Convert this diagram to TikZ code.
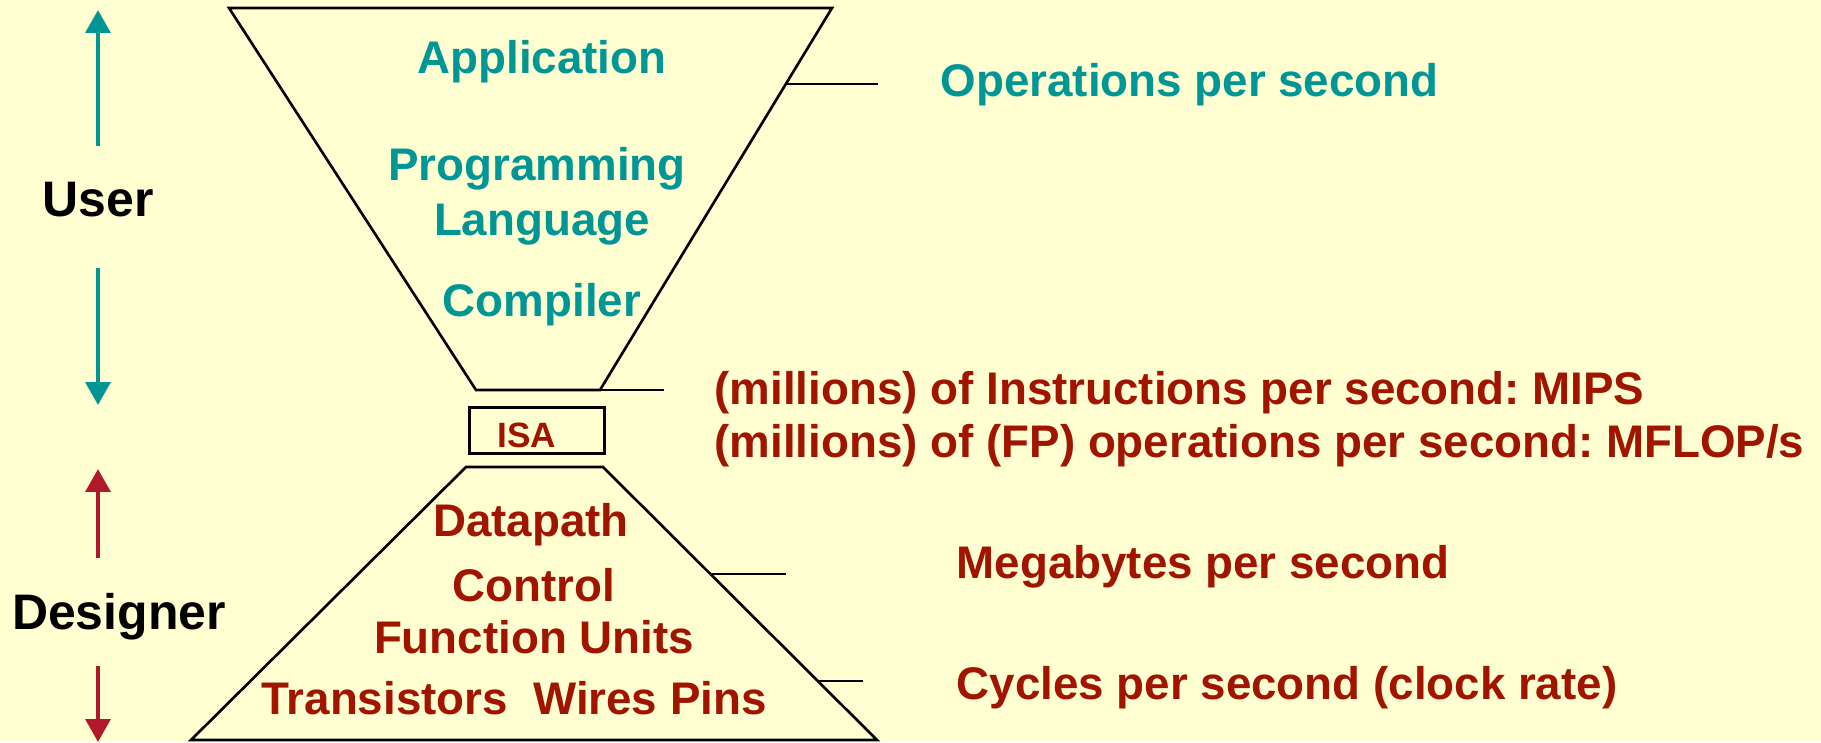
\documentclass[tikz,border=0pt]{standalone}
\usepackage{fontspec}
\setmainfont{Liberation Sans}
\usetikzlibrary{arrows.meta}
\definecolor{bg}{RGB}{255,255,210}
\definecolor{tealc}{RGB}{0,150,150}
\definecolor{redc}{RGB}{160,20,0}
\definecolor{arrred}{RGB}{178,24,44}
\frenchspacing
\begin{document}
\begin{tikzpicture}[x=0.01cm,y=-0.01cm,
  outline/.style={draw=black,line width=0.75pt},
  tick/.style={draw=black,line width=0.75pt},
  lbl/.style={inner sep=0pt,anchor=base,font=\fontsize{13}{15}\selectfont\bfseries},
  rlbl/.style={inner sep=0pt,anchor=base west,font=\fontsize{13}{15}\selectfont\bfseries},
  side/.style={inner sep=0pt,anchor=base,font=\fontsize{14.2}{17}\selectfont\bfseries,text=black},
  varr/.style={line width=1.2pt,-{Triangle[width=7pt,length=6.5pt]}}]
\fill[bg] (0,0) rectangle (1821,742);
\useasboundingbox (0,0) rectangle (1821,742);
% top funnel
\coordinate (t1) at (229,8);
\coordinate (t2) at (832,8);
\coordinate (t3) at (600,390);
\coordinate (t4) at (476,390);
\draw[outline] (t1) -- (t2) -- (t3) -- (t4) -- cycle;
% bottom pyramid
\coordinate (b1) at (466,467);
\coordinate (b2) at (603,467);
\coordinate (b3) at (877,740);
\coordinate (b4) at (191,740);
\draw[outline] (b1) -- (b2) -- (b3) -- (b4) -- cycle;
% ISA box
\node[draw=black,line width=0.75pt,minimum width=135pt*0.2845,minimum height=46pt*0.2845,inner sep=0pt,anchor=north west] (isabox) at (468,406) {};
\node[inner sep=0pt,anchor=base,font=\fontsize{10}{12}\selectfont\bfseries,text=redc] (isa) at (527,447) {ISA};
% ticks
\coordinate (k1a) at (787,84);  \coordinate (k1b) at (878,84);
\coordinate (k2a) at (600,390); \coordinate (k2b) at (664,390);
\coordinate (k3a) at (711,574); \coordinate (k3b) at (786,574);
\coordinate (k4a) at (819,681); \coordinate (k4b) at (863,681);
\draw[tick] (k1a) -- (k1b);
\draw[tick] (k2a) -- (k2b);
\draw[tick] (k3a) -- (k3b);
\draw[tick] (k4a) -- (k4b);
% funnel texts
\node[lbl,text=tealc] (app) at (542,73) {Application};
\node[lbl,text=tealc] (prog) at (537,180) {Programming};
\node[lbl,text=tealc] (lang) at (542,235) {Language};
\node[lbl,text=tealc] (comp) at (542,316) {Compiler};
\node[lbl,text=redc] (dp) at (531,536) {Datapath};
\node[lbl,text=redc] (ctl) at (534,601) {Control};
\node[lbl,text=redc] (fu) at (534,653) {Function Units};
\node[lbl,text=redc] (twp) at (514,714) {Transistors\ \ Wires Pins};
% right texts
\node[rlbl,text=tealc] (ops) at (940,96) {Operations per second};
\node[rlbl,text=redc] (mips) at (714,404) {(millions) of Instructions per second: MIPS};
\node[rlbl,text=redc] (mflop) at (714,457) {(millions) of (FP) operations per second: MFLOP/s};
\node[rlbl,text=redc] (mb) at (956,578) {Megabytes per second};
\node[rlbl,text=redc] (cyc) at (956,699) {Cycles per second (clock rate)};
% side labels
\node[side] (user) at (98,216) {User};
\node[side] (des) at (119,629) {Designer};
\coordinate (u1) at (98,146); \coordinate (u2) at (98,10);
\coordinate (u3) at (98,268); \coordinate (u4) at (98,405);
\coordinate (d1) at (98,558); \coordinate (d2) at (98,469);
\coordinate (d3) at (98,666); \coordinate (d4) at (98,742);
\draw[varr,draw=tealc,fill=tealc] (u1) -- (u2);
\draw[varr,draw=tealc,fill=tealc] (u3) -- (u4);
\draw[varr,draw=arrred,fill=arrred] (d1) -- (d2);
\draw[varr,draw=arrred,fill=arrred] (d3) -- (d4);
\end{tikzpicture}
\end{document}
